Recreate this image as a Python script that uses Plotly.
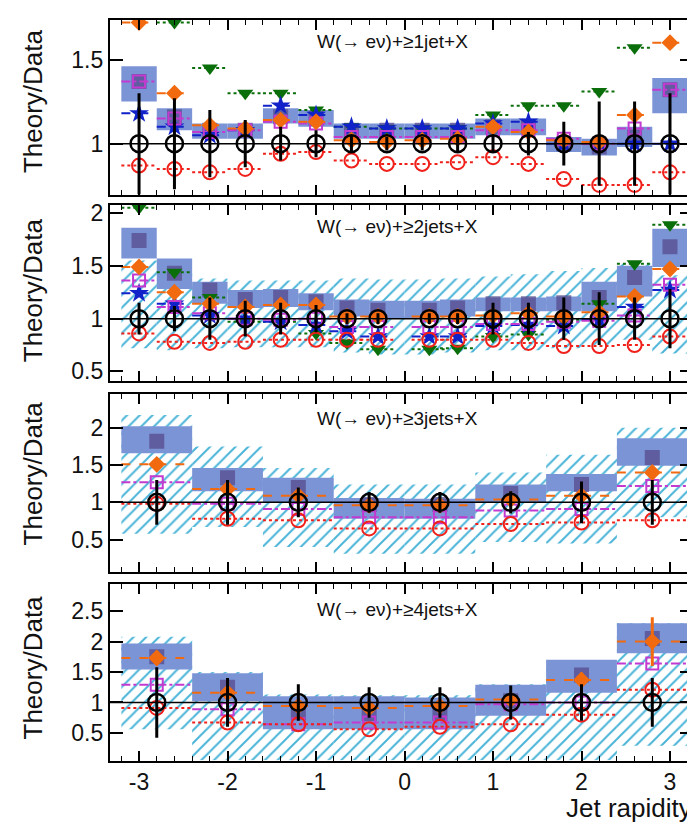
import plotly.graph_objects as go

# page body adds an 8 px margin: the figure is sized so it ends at the window edge
OFF = 8
W, H = 695 - OFF, 824 - OFF

# ---------------- bins ----------------
centers_16 = [-3.0, -2.6, -2.2, -1.8, -1.4, -1.0, -0.6, -0.2, 0.2, 0.6, 1.0, 1.4, 1.8, 2.2, 2.6, 3.0]
width_16 = 0.4
points_x_2j = [-3.0, -2.6, -2.2, -1.8, -1.4, -1.0, -0.65, -0.3, 0.28, 0.6, 1.0, 1.4, 1.8, 2.2, 2.6, 3.0]
centers_8 = [-2.8, -2.0, -1.2, -0.4, 0.4, 1.2, 2.0, 2.8]
width_8 = 0.8
x_tick_vals = [-3, -2, -1, 0, 1, 2, 3]
x_tick_text = ["-3", "-2", "-1", "0", "1", "2", "3"]

# ---------------- >=1 jet ----------------
data_1j = [1.0] * 16
data_err_1j = [0.3, 0.27, 0.2, 0.14, 0.1, 0.08, 0.05, 0.04, 0.04, 0.05, 0.05, 0.07, 0.13, 0.25, 0.25, 0.3]
orange_1j = [1.72, 1.30, 1.11, 1.09, 1.14, 1.13, 1.02, 1.01, 1.02, 1.03, 1.10, 1.07, 1.02, 1.01, 1.17, 1.60]
green_1j = [None, 1.72, 1.45, 1.30, 1.30, 1.20, 1.10, 1.09, 1.09, 1.09, 1.17, 1.225, 1.225, 1.31, 1.57, None]
blue_1j = [1.18, 1.10, 1.05, 1.08, 1.225, 1.17, 1.10, 1.09, 1.09, 1.09, 1.12, 1.13, 1.0, 1.0, 1.0, 1.0]
magenta_1j = [1.37, 1.15, 1.07, 1.08, 1.13, 1.12, 1.04, 1.04, 1.04, 1.04, 1.08, 1.08, 1.03, 1.0, 1.09, 1.32]
red_1j = [0.87, 0.85, 0.83, 0.85, 0.94, 0.95, 0.90, 0.88, 0.88, 0.89, 0.92, 0.88, 0.79, 0.755, 0.755, 0.83]
band_lo_1j = [1.25, 1.08, 1.03, 1.03, 1.12, 1.10, 1.03, 1.03, 1.03, 1.03, 1.05, 1.05, 0.95, 0.93, 0.98, 1.18]
band_hi_1j = [1.46, 1.21, 1.12, 1.12, 1.21, 1.20, 1.12, 1.12, 1.12, 1.12, 1.15, 1.15, 1.04, 1.03, 1.10, 1.39]
dark_1j = [1.37, 1.16, 1.08, 1.08, 1.16, 1.15, 1.08, 1.08, 1.08, 1.08, 1.10, 1.10, 1.0, 0.98, 1.04, 1.32]

# ---------------- >=2 jets ----------------
data_2j = [1.0] * 16
data_err_2j = [0.15, 0.12, 0.2, 0.17, 0.15, 0.13, 0.05, 0.05, 0.05, 0.05, 0.15, 0.15, 0.2, 0.25, 0.2, 0.28]
orange_2j = [1.49, 1.25, 1.14, 1.11, 1.13, 1.13, 1.02, 1.02, 1.02, 1.02, 1.03, 1.05, 1.02, 1.06, 1.21, 1.47]
green_2j = [2.05, 1.44, 1.20, 0.97, 0.97, 0.86, 0.77, 0.71, 0.71, 0.72, 0.83, 0.85, 0.99, 1.14, 1.52, 1.89]
blue_2j = [1.24, 1.14, 1.03, 1.0, 0.97, 0.94, 0.88, 0.83, 0.83, 0.83, 0.93, 0.94, 0.93, 0.99, 1.11, 1.27]
magenta_2j = [1.36, 1.11, 1.05, 1.0, 0.99, 1.0, 0.92, 0.92, 0.92, 0.92, 0.95, 0.95, 0.97, 0.98, 1.03, 1.32]
red_2j = [0.86, 0.78, 0.77, 0.78, 0.80, 0.80, 0.80, 0.80, 0.80, 0.80, 0.80, 0.77, 0.74, 0.74, 0.75, 0.83]
band_lo_2j = [1.57, 1.28, 1.14, 1.10, 1.11, 1.08, 1.02, 1.00, 1.00, 1.02, 1.07, 1.07, 1.07, 1.07, 1.21, 1.49]
band_hi_2j = [1.86, 1.57, 1.35, 1.27, 1.28, 1.24, 1.18, 1.17, 1.17, 1.18, 1.20, 1.20, 1.21, 1.35, 1.50, 1.85]
dark_2j = [1.74, 1.43, 1.27, 1.18, 1.20, 1.16, 1.10, 1.08, 1.08, 1.10, 1.14, 1.14, 1.15, 1.20, 1.39, 1.68]
hatch_lo_2j = [0.72, 0.70, 0.72, 0.73, 0.73, 0.73, 0.68, 0.66, 0.66, 0.68, 0.70, 0.70, 0.72, 0.75, 0.80, 0.67]
hatch_hi_2j = [1.55, 1.45, 1.38, 1.36, 1.36, 1.36, 1.38, 1.37, 1.37, 1.38, 1.40, 1.42, 1.45, 1.48, 1.52, 1.41]

# ---------------- >=3 jets ----------------
data_3j = [1.0] * 8
data_err_3j = [0.3, 0.3, 0.2, 0.14, 0.14, 0.15, 0.28, 0.3]
orange_3j = [1.51, 1.18, 1.09, 0.96, 0.96, 1.04, 1.09, 1.40]
magenta_3j = [1.27, 0.98, 0.91, 0.80, 0.80, 0.89, 0.91, 1.22]
red_3j = [0.98, 0.78, 0.76, 0.65, 0.65, 0.71, 0.73, 0.76]
band_lo_3j = [1.66, 1.15, 1.00, 0.78, 0.78, 1.00, 1.15, 1.49]
band_hi_3j = [2.02, 1.46, 1.33, 1.06, 1.05, 1.24, 1.38, 1.86]
dark_3j = [1.82, 1.33, 1.20, 0.97, 0.97, 1.12, 1.24, 1.60]
hatch_lo_3j = [0.58, 0.67, 0.40, 0.31, 0.31, 0.47, 0.45, 0.80]
hatch_hi_3j = [2.17, 1.75, 1.46, 1.24, 1.24, 1.40, 1.64, 2.00]

# ---------------- >=4 jets ----------------
data_4j = [1.0] * 8
data_err_4j = [0.58, 0.4, 0.3, 0.25, 0.25, 0.28, 0.3, 0.4]
orange_4j = [1.73, 1.16, 0.94, 0.91, 0.94, 1.05, 1.37, 2.00]
orange_err_4j = [0.12, 0.1, 0.06, 0.05, 0.05, 0.07, 0.12, 0.4]
magenta_4j = [1.29, 0.89, 0.64, 0.67, 0.67, 0.97, 1.00, 1.64]
red_4j = [0.91, 0.67, 0.64, 0.56, 0.60, 0.64, 0.80, 1.21]
band_lo_4j = [1.54, 1.02, 0.56, 0.56, 0.56, 0.78, 1.16, 1.81]
band_hi_4j = [1.97, 1.48, 1.10, 1.10, 1.08, 1.29, 1.70, 2.30]
dark_4j = [1.75, 1.25, 0.83, 0.82, 0.82, 1.03, 1.45, 2.05]
hatch_lo_4j = [0.56, 0.05, 0.05, 0.05, 0.05, 0.05, 0.05, 0.29]
hatch_hi_4j = [2.08, 1.50, 1.13, 1.12, 1.12, 1.30, 1.55, 2.30]

labels = ["W(\u2192 e\u03bd)+\u22651jet+X", "W(\u2192 e\u03bd)+\u22652jets+X",
          "W(\u2192 e\u03bd)+\u22653jets+X", "W(\u2192 e\u03bd)+\u22654jets+X"]
y_ranges = [[0.694, 1.735], [0.406, 2.075], [0.06, 2.45], [0.045, 2.94]]
y_ticks = [[1, 1.5], [0.5, 1, 1.5, 2], [0.5, 1, 1.5, 2], [0.5, 1, 1.5, 2, 2.5]]
x_range = [-3.33, 3.26]

# ---------------- styles ----------------
BAND = "#7b94d6"
DARK = "rgba(85,75,140,0.75)"
HATCH = "#4ab4d8"
ORANGE = "#f26a10"
GREEN = "#0a6e0a"
BLUE = "#1022c8"
MAGENTA = "#c23ad0"
RED = "#f0201a"
FONT = "Liberation Sans, Arial, Helvetica, sans-serif"

# layout positions in window pixels (converted to figure pixels below)
panels_px = [(15, 192), (202, 380), (393, 573), (585, 763)]
title_centers = [97, 288, 473, 669]
label_centers = [37, 224, 418, 610]


def fx(px):
    return (px - OFF) / W


def fy(py):
    return 1 - (py - OFF) / H


x_dom = [fx(110), min(1.0, fx(694))]

panels = [
    dict(xc=centers_16, xp=centers_16, w=width_16, data=data_1j, err=data_err_1j, orange=orange_1j,
         orange_err=None, green=green_1j, blue=blue_1j, magenta=magenta_1j, red=red_1j,
         blo=band_lo_1j, bhi=band_hi_1j, dark=dark_1j, hlo=None, hhi=None),
    dict(xc=centers_16, xp=points_x_2j, w=width_16, data=data_2j, err=data_err_2j, orange=orange_2j,
         orange_err=None, green=green_2j, blue=blue_2j, magenta=magenta_2j, red=red_2j,
         blo=band_lo_2j, bhi=band_hi_2j, dark=dark_2j, hlo=hatch_lo_2j, hhi=hatch_hi_2j),
    dict(xc=centers_8, xp=centers_8, w=width_8, data=data_3j, err=data_err_3j, orange=orange_3j,
         orange_err=None, green=None, blue=None, magenta=magenta_3j, red=red_3j,
         blo=band_lo_3j, bhi=band_hi_3j, dark=dark_3j, hlo=hatch_lo_3j, hhi=hatch_hi_3j),
    dict(xc=centers_8, xp=centers_8, w=width_8, data=data_4j, err=data_err_4j, orange=orange_4j,
         orange_err=orange_err_4j, green=None, blue=None, magenta=magenta_4j, red=red_4j,
         blo=band_lo_4j, bhi=band_hi_4j, dark=dark_4j, hlo=hatch_lo_4j, hhi=hatch_hi_4j),
]


def segments(xc, vals, w):
    xs, ys = [], []
    for c, v in zip(xc, vals):
        if v is None:
            continue
        xs += [c - w / 2, c + w / 2, None]
        ys += [v, v, None]
    return xs, ys


fig = go.Figure()

for i, p in enumerate(panels):
    k = "" if i == 0 else str(i + 1)
    xa, ya = "x" + k, "y" + k
    xc, xp, w = p["xc"], p["xp"], p["w"]

    # hatched band
    if p["hlo"] is not None:
        fig.add_trace(go.Bar(
            x=xc, base=p["hlo"], y=[h - l for h, l in zip(p["hhi"], p["hlo"])], width=w,
            marker=dict(color="rgba(0,0,0,0)", line=dict(width=0),
                        pattern=dict(shape="/", fgcolor=HATCH, bgcolor="rgba(0,0,0,0)",
                                     size=9, solidity=0.22, fillmode="replace")),
            xaxis=xa, yaxis=ya, showlegend=False, hoverinfo="skip"))
    # filled blue band
    fig.add_trace(go.Bar(
        x=xc, base=p["blo"], y=[h - l for h, l in zip(p["bhi"], p["blo"])], width=w,
        marker=dict(color=BAND, line=dict(width=0)),
        xaxis=xa, yaxis=ya, showlegend=False, hoverinfo="skip"))
    # dark squares inside band
    fig.add_trace(go.Scatter(
        x=xp, y=p["dark"], mode="markers",
        marker=dict(symbol="square", size=15, color=DARK, line=dict(width=0)),
        xaxis=xa, yaxis=ya, showlegend=False, hoverinfo="skip"))

    # theory horizontal lines across each bin
    series = []
    if p["green"] is not None:
        series.append((p["green"], GREEN, "dot"))
    if p["blue"] is not None:
        series.append((p["blue"], BLUE, "dash"))
    series.append((p["magenta"], MAGENTA, "dashdot"))
    series.append((p["orange"], ORANGE, "dash"))
    series.append((p["red"], RED, "dot"))
    for vals, col, dash in series:
        sx, sy = segments(xp, vals, w)
        fig.add_trace(go.Scatter(x=sx, y=sy, mode="lines",
                                 line=dict(color=col, width=2, dash=dash),
                                 xaxis=xa, yaxis=ya, showlegend=False, hoverinfo="skip"))

    # theory markers
    if p["green"] is not None:
        fig.add_trace(go.Scatter(x=xp, y=p["green"], mode="markers",
                                 marker=dict(symbol="triangle-down", size=14, color=GREEN),
                                 xaxis=xa, yaxis=ya, showlegend=False))
    if p["blue"] is not None:
        fig.add_trace(go.Scatter(x=xp, y=p["blue"], mode="markers",
                                 marker=dict(symbol="star", size=15, color=BLUE),
                                 xaxis=xa, yaxis=ya, showlegend=False))
    fig.add_trace(go.Scatter(x=xp, y=p["magenta"], mode="markers",
                             marker=dict(symbol="square-open", size=12, color=MAGENTA,
                                         line=dict(width=2)),
                             xaxis=xa, yaxis=ya, showlegend=False))
    fig.add_trace(go.Scatter(x=xp, y=p["red"], mode="markers",
                             marker=dict(symbol="circle-open", size=14, color=RED,
                                         line=dict(width=2)),
                             xaxis=xa, yaxis=ya, showlegend=False))
    oerr = None
    if p["orange_err"] is not None:
        oerr = dict(type="data", array=p["orange_err"], color=ORANGE, thickness=3, width=0)
    fig.add_trace(go.Scatter(x=xp, y=p["orange"], mode="markers", error_y=oerr,
                             marker=dict(symbol="diamond", size=13, color=ORANGE),
                             xaxis=xa, yaxis=ya, showlegend=False))
    # data
    fig.add_trace(go.Scatter(x=xp, y=p["data"], mode="markers",
                             error_y=dict(type="data", array=p["err"], color="black",
                                          thickness=3, width=0),
                             marker=dict(symbol="circle-open", size=17, color="black",
                                         line=dict(width=2.5)),
                             xaxis=xa, yaxis=ya, showlegend=False))

layout = dict(
    width=W, height=H, margin=dict(l=0, r=0, t=0, b=0),
    paper_bgcolor="white", plot_bgcolor="white", barmode="overlay",
    font=dict(family=FONT, color="#111"), showlegend=False,
)
shapes = []
annotations = []
for i, (top, bot) in enumerate(panels_px):
    k = "" if i == 0 else str(i + 1)
    layout["xaxis" + k] = dict(
        domain=x_dom, range=x_range, anchor="y" + k,
        showline=True, linewidth=2, linecolor="black", mirror="allticks",
        ticks="inside", ticklen=10, tickwidth=1.5, tickcolor="black",
        tickvals=x_tick_vals, ticktext=x_tick_text,
        minor=dict(tick0=0, dtick=0.2, ticks="inside", ticklen=5, tickwidth=1.2,
                   tickcolor="black"),
        showgrid=False, zeroline=False, showticklabels=(i == 3),
        tickfont=dict(size=23, family=FONT, color="#111"),
    )
    layout["yaxis" + k] = dict(
        domain=[fy(bot), fy(top)], range=y_ranges[i], anchor="x" + k,
        showline=True, linewidth=2, linecolor="black", mirror="allticks",
        ticks="inside", ticklen=13, tickwidth=1.5, tickcolor="black",
        tickvals=y_ticks[i], ticktext=[("%g" % v) for v in y_ticks[i]],
        showgrid=False, zeroline=False,
        tickfont=dict(size=23, family=FONT, color="#111"),
    )
    shapes.append(dict(type="line", xref="x" + k + " domain", yref="y" + k,
                       x0=0, x1=1, y0=1, y1=1, line=dict(color="black", width=1.5),
                       layer="above"))
    annotations.append(dict(text="Theory/Data", textangle=-90, xref="paper", yref="paper",
                            x=fx(33), y=fy(title_centers[i]), xanchor="center",
                            yanchor="middle", showarrow=False,
                            font=dict(size=26, family=FONT, color="#111")))
    annotations.append(dict(text=labels[i], xref="paper", yref="paper",
                            x=fx(315), y=fy(label_centers[i]), xanchor="left",
                            yanchor="middle", showarrow=False,
                            font=dict(size=19, family=FONT, color="#111")))

annotations.append(dict(text="Jet rapidity", xref="paper", yref="paper",
                        x=1.0, y=fy(811), xanchor="right", yanchor="middle",
                        showarrow=False, font=dict(size=26, family=FONT, color="#111")))
layout["shapes"] = shapes
layout["annotations"] = annotations
fig.update_layout(**layout)

fig.write_html("out.html")
